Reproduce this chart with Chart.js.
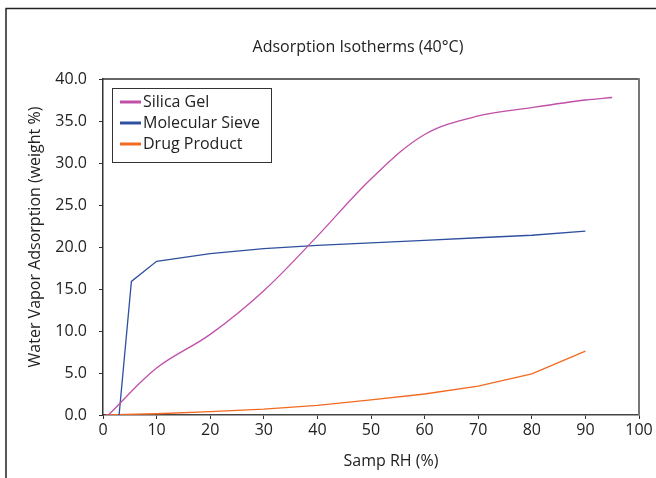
<!DOCTYPE html>
<html>
<head>
<meta charset="utf-8">
<script src="https://cdn.jsdelivr.net/npm/chart.js@4"></script>
<style>
  body { margin: 0; background: #fff; }
  #wrap { width: 656px; height: 478px; }
</style>
</head>
<body>
<div id="wrap"><canvas id="isotherms"></canvas></div>
<script>
const silicaRH = [1, 10, 20, 30, 40, 50, 60, 70, 80, 90, 95];
const silicaWt = [0, 5.6, 9.6, 14.8, 21.3, 28.1, 33.4, 35.6, 36.6, 37.5, 37.8];
const sieveRH = [3, 5.3, 10, 20, 30, 40, 50, 60, 70, 80, 90];
const sieveWt = [0, 15.9, 18.3, 19.2, 19.8, 20.2, 20.5, 20.8, 21.1, 21.4, 21.9];
const drugRH = [0.5, 10, 20, 30, 40, 50, 60, 70, 80, 90];
const drugWt = [0, 0.15, 0.4, 0.7, 1.15, 1.8, 2.5, 3.45, 4.9, 7.6];
const xTicks = [0, 10, 20, 30, 40, 50, 60, 70, 80, 90, 100];

const FONT = "'Open Sans', sans-serif";

function pts(xs, ys) {
  return xs.map(function (x, i) { return { x: x, y: ys[i] }; });
}

// frame, plot box, titles and the boxed legend
const decor = {
  id: 'decor',
  afterDraw: function (chart) {
    const ctx = chart.ctx;
    const a = chart.chartArea;
    ctx.save();
    // outer frame
    ctx.strokeStyle = '#222';
    ctx.lineWidth = 1.5;
    ctx.beginPath();
    ctx.moveTo(6, 478); ctx.lineTo(6, 8.5); ctx.lineTo(656, 8.5);
    ctx.stroke();
    // top/right of plot box
    ctx.lineWidth = 1.5;
    ctx.strokeStyle = '#333';
    ctx.beginPath();
    ctx.moveTo(a.left, a.top); ctx.lineTo(a.right, a.top);
    ctx.stroke();
    ctx.strokeStyle = '#777';
    ctx.lineWidth = 2;
    ctx.beginPath();
    ctx.moveTo(a.right, a.top - 0.75); ctx.lineTo(a.right, a.bottom);
    ctx.stroke();

    ctx.fillStyle = '#222';
    ctx.textAlign = 'center';
    ctx.textBaseline = 'middle';
    ctx.font = '16px ' + FONT;
    ctx.fillText('Adsorption Isotherms (40°C)', 358, 47);
    ctx.fillText('Samp RH (%)', 391, 461);
    ctx.save();
    ctx.translate(35, 237);
    ctx.rotate(-Math.PI / 2);
    ctx.fillText('Water Vapor Adsorption (weight %)', 0, 0);
    ctx.restore();

    // legend
    ctx.fillStyle = '#fff';
    ctx.fillRect(112, 88, 159, 74);
    ctx.strokeStyle = '#333';
    ctx.lineWidth = 1;
    ctx.strokeRect(112.5, 88.5, 159, 74);
    ctx.textAlign = 'left';
    ctx.font = '16px ' + FONT;
    chart.data.datasets.forEach(function (ds, i) {
      const y = 102 + i * 21;
      ctx.strokeStyle = ds.borderColor;
      ctx.lineWidth = 3;
      ctx.beginPath();
      ctx.moveTo(120, y); ctx.lineTo(141, y);
      ctx.stroke();
      ctx.fillStyle = '#222';
      ctx.fillText(ds.label, 143, y);
    });
    ctx.restore();
  }
};

new Chart(document.getElementById('isotherms'), {
  type: 'line',
  data: {
    datasets: [
      { label: 'Silica Gel', data: pts(silicaRH, silicaWt), borderColor: '#c04fa8',
        borderWidth: 1.3, tension: 0.35, pointRadius: 0 },
      { label: 'Molecular Sieve', data: pts(sieveRH, sieveWt), borderColor: '#2f4f9f',
        borderWidth: 1.3, tension: 0, pointRadius: 0 },
      { label: 'Drug Product', data: pts(drugRH, drugWt), borderColor: '#f26a21',
        borderWidth: 1.3, tension: 0, pointRadius: 0 }
    ]
  },
  options: {
    responsive: true,
    maintainAspectRatio: false,
    animation: false,
    layout: { padding: { top: 79, right: 17, left: 0, bottom: 0 } },
    plugins: { legend: { display: false }, title: { display: false }, tooltip: { enabled: false } },
    scales: {
      x: {
        type: 'linear', min: 0, max: 100,
        afterFit: function (s) { s.height = 63; },
        afterBuildTicks: function (s) { s.ticks = xTicks.map(function (v) { return { value: v }; }); },
        grid: { drawOnChartArea: false, tickLength: 4, color: '#333' },
        border: { color: '#444', width: 1.5 },
        ticks: { color: '#222', font: { size: 16, family: FONT }, padding: 2, maxRotation: 0 }
      },
      y: {
        min: 0, max: 40,
        afterFit: function (s) { s.width = 103; },
        grid: { drawOnChartArea: false, tickLength: 4, color: '#333' },
        border: { color: '#333', width: 1.5 },
        ticks: { stepSize: 5, color: '#222', font: { size: 16, family: FONT }, padding: 12,
          callback: function (v) { return v.toFixed(1); } }
      }
    }
  },
  plugins: [decor]
});
</script>
</body>
</html>
